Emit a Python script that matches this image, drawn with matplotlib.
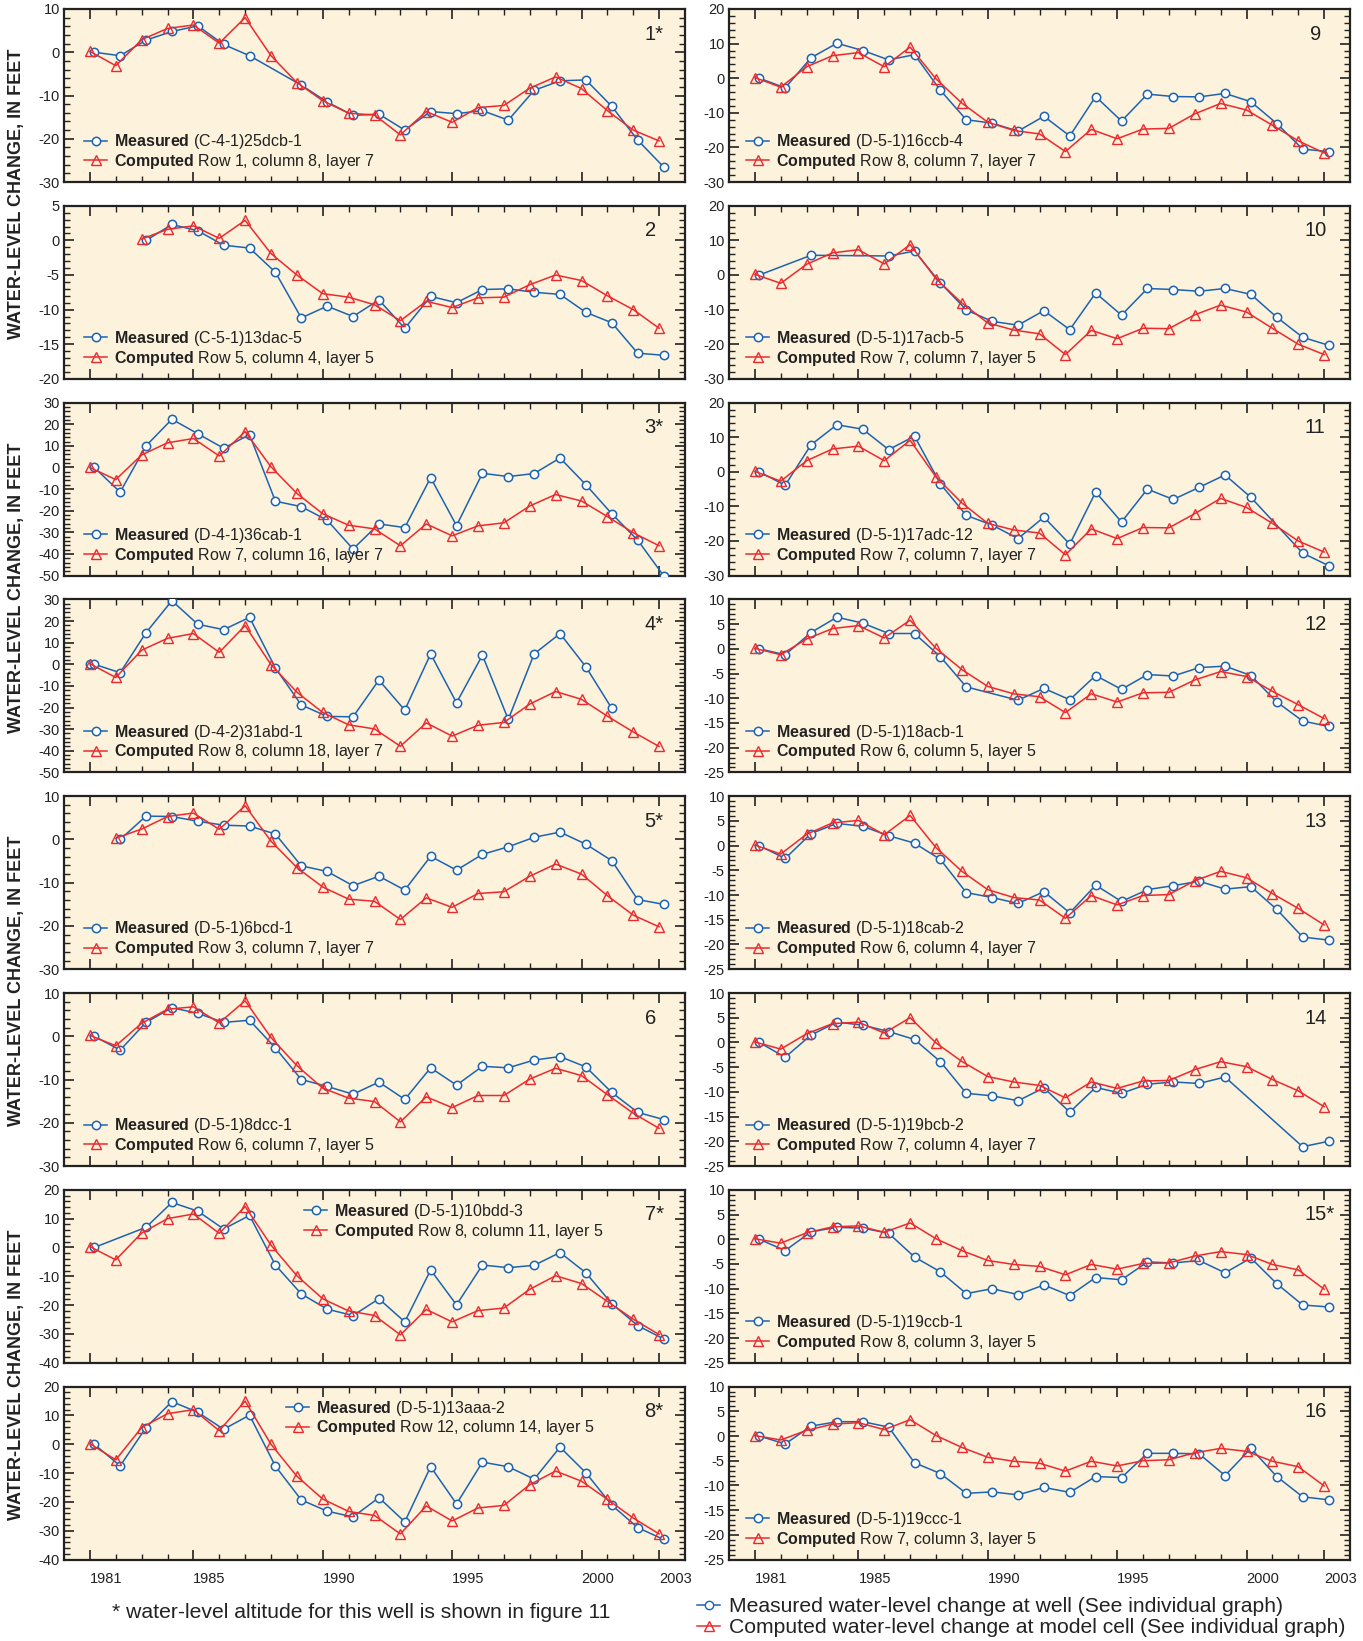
import matplotlib
matplotlib.use('Agg')
import matplotlib.pyplot as plt
from matplotlib.lines import Line2D
from matplotlib.ticker import MultipleLocator, AutoMinorLocator

plt.rcParams['font.family'] = ['Liberation Sans', 'DejaVu Sans']
plt.rcParams['mathtext.fontset'] = 'custom'
plt.rcParams['mathtext.rm'] = 'Liberation Sans'
plt.rcParams['mathtext.bf'] = 'Liberation Sans:bold'
plt.rcParams['axes.unicode_minus'] = False

BG = '#FDF2DB'
BLUE = '#1C63B0'
RED = '#EC2A2E'

label_years = [1981, 1985, 1990, 1995, 2000, 2003]
all_years = list(range(1981, 2004))
meas_shift = 0.17   # measured points sit a little right of the year tick

# ---- panel 1
c1 = [0.2, -3.1, 2.9, 5.5, 6.3, 2.1, 8.0, -0.8, -7.0, -11.2, -14.1, -14.5, -19.1, -13.7, -16.2, -12.8, -12.3, -8.3, -5.7, -8.4, -13.5, -18.0, -20.5]
m1_years = list(range(1981, 1988)) + list(range(1989, 2004))
m1 = [0, -0.8, 2.8, 4.8, 6.1, 1.8, -0.8, -7.6, -11.5, -14.6, -14.3, -18.0, -13.7, -14.2, -13.5, -15.7, -8.8, -6.6, -6.4, -12.5, -20.3, -26.5]
# ---- panel 2
c2_start = 1983
c2 = [0.2, 1.6, 2.1, 0.3, 2.9, -1.9, -5.0, -7.7, -8.2, -9.3, -11.6, -8.8, -9.7, -8.3, -8.2, -6.4, -5.0, -5.8, -8.0, -10.0, -12.7]
m2_years = list(range(1983, 2004))
m2 = [0, 2.3, 1.4, -0.7, -1.1, -4.6, -11.2, -9.5, -11.0, -8.6, -12.7, -8.1, -9.0, -7.1, -7.0, -7.5, -7.8, -10.4, -11.9, -16.3, -16.6]
# ---- panel 3
c3 = [0, -5.6, 5.8, 11.4, 13.4, 5.3, 16.6, 0.3, -12.0, -21.4, -26.7, -28.4, -36.2, -26.1, -31.6, -27.0, -25.6, -17.8, -12.5, -15.5, -22.7, -30.2, -36.2]
m3_years = all_years
m3 = [0, -11.4, 10.0, 22.3, 15.6, 8.9, 15.2, -15.6, -18.1, -24.4, -37.7, -26.1, -27.8, -4.7, -26.9, -2.7, -4.2, -2.8, 4.4, -8.0, -21.4, -33.6, -50.0]
# ---- panel 4
c4 = [0.3, -6.1, 6.5, 12.0, 14.2, 5.5, 17.9, -0.2, -12.9, -22.3, -28.0, -29.9, -37.9, -27.1, -33.2, -28.2, -26.9, -18.4, -12.6, -16.2, -24.0, -31.3, -38.0]
m4_years = [1980.83] + list(range(1981, 2002))
m4 = [0, 0, -3.9, 14.6, 29.4, 18.5, 16.0, 21.7, -1.7, -18.8, -24.1, -24.3, -7.3, -21.2, 4.8, -17.8, 4.2, -25.5, 4.8, 14.2, -1.2, -20.4]
# ---- panel 5
c5_start = 1982
c5 = [0.3, 2.4, 5.3, 6.1, 2.35, 7.8, -0.4, -6.5, -11.0, -13.8, -14.3, -18.5, -13.5, -15.7, -12.5, -12.1, -8.5, -5.7, -8.0, -13.0, -17.5, -20.2]
m5_years = list(range(1982, 2004))
m5 = [0, 5.4, 5.3, 4.2, 3.3, 3.1, 1.25, -6.1, -7.4, -10.7, -8.5, -11.7, -3.9, -7.1, -3.45, -1.7, 0.5, 1.7, -1.1, -4.9, -13.9, -15.0]
# ---- panel 6
c6 = [0.2, -2.2, 3.0, 6.25, 6.8, 3.1, 8.2, -0.3, -6.8, -12.0, -14.3, -15.1, -19.8, -14.0, -16.5, -13.7, -13.7, -9.9, -7.4, -9.1, -13.5, -17.8, -21.3]
m6_years = all_years
m6 = [0, -3.2, 3.2, 6.6, 5.3, 3.2, 3.7, -2.7, -10.0, -11.6, -13.4, -10.6, -14.6, -7.3, -11.3, -6.95, -7.3, -5.5, -4.7, -7.1, -13.0, -17.6, -19.25]
# ---- panel 7
c7 = [0.3, -4.3, 5.0, 10.0, 11.6, 4.9, 14.2, 0.8, -9.8, -17.8, -22.0, -23.6, -30.3, -21.5, -25.8, -21.9, -21.0, -14.5, -9.8, -12.5, -18.7, -24.9, -30.2]
m7_years = [1981] + list(range(1983, 2004))
m7 = [0, 7.0, 15.6, 12.6, 6.4, 11.1, -6.1, -16.1, -21.4, -23.6, -17.8, -25.8, -7.8, -19.9, -6.1, -7.0, -6.2, -1.75, -8.8, -19.5, -27.1, -31.7]
# ---- panel 8
c8 = [0.2, -5.4, 5.8, 10.6, 12.0, 4.7, 15.0, 0.0, -11.1, -19.0, -23.3, -24.7, -31.1, -21.4, -26.6, -22.1, -21.2, -14.0, -9.3, -12.8, -19.1, -25.6, -31.1]
m8_years = all_years
m8 = [0, -7.5, 5.8, 14.8, 11.1, 5.2, 10.1, -7.6, -19.3, -23.2, -25.2, -18.5, -26.9, -7.8, -20.7, -6.2, -7.8, -12.1, -1.0, -9.9, -21.1, -28.9, -33.0]
# ---- panel 9
c9 = [0.2, -2.6, 3.3, 6.5, 7.4, 3.3, 9.0, -0.2, -7.2, -12.7, -15.1, -16.1, -21.2, -14.8, -17.5, -14.7, -14.5, -10.3, -7.3, -9.2, -13.6, -18.1, -21.6]
m9_years = all_years
m9 = [0, -2.8, 5.9, 10.1, 8.0, 5.3, 6.8, -3.5, -12.0, -13.0, -15.3, -11.0, -16.7, -5.3, -12.4, -4.6, -5.3, -5.4, -4.4, -6.8, -13.1, -20.5, -21.2]
# ---- panel 10
c10 = [0.2, -2.4, 3.1, 6.4, 7.3, 3.2, 8.8, -1.1, -8.1, -13.85, -15.9, -17.0, -23.0, -16.0, -18.4, -15.4, -15.5, -11.5, -8.7, -10.7, -15.4, -20.0, -23.0]
m10_years = [1981, 1983] + list(range(1986, 2004))
m10 = [0, 5.7, 5.5, 6.9, -2.3, -10.1, -13.4, -14.5, -10.3, -15.8, -5.2, -11.6, -3.9, -4.2, -4.7, -3.9, -5.6, -12.2, -18.0, -20.3]
# ---- panel 11
c11 = [0.1, -2.7, 3.2, 6.6, 7.4, 3.2, 9.1, -1.5, -9.0, -14.9, -16.8, -17.7, -24.0, -16.5, -19.3, -16.1, -16.2, -12.1, -7.7, -10.3, -14.9, -20.0, -23.2]
m11_years = list(range(1981, 2001)) + [2002, 2003]
m11 = [0, -3.9, 7.8, 13.6, 12.3, 6.4, 10.3, -3.5, -12.6, -15.4, -19.3, -13.1, -20.9, -5.85, -14.5, -5.0, -8.0, -4.5, -0.9, -7.4, -23.5, -27.1]
# ---- panel 12
c12 = [0.1, -1.2, 2.0, 4.1, 4.7, 2.2, 5.8, 0.1, -4.2, -7.6, -9.1, -9.7, -12.9, -9.1, -10.75, -8.9, -8.8, -6.3, -4.6, -5.6, -8.6, -11.3, -14.1]
m12_years = list(range(1981, 1990)) + list(range(1991, 2004))
m12 = [0, -1.2, 3.3, 6.4, 5.2, 3.1, 3.1, -1.6, -7.7, -10.4, -8.0, -10.3, -5.4, -8.2, -5.2, -5.5, -3.8, -3.5, -5.4, -10.75, -14.6, -15.7]
# ---- panel 13
c13 = [0.1, -1.7, 2.3, 4.6, 5.1, 2.2, 6.1, -0.4, -5.2, -8.9, -10.5, -11.0, -14.7, -10.1, -12.0, -10.1, -9.9, -7.1, -5.2, -6.5, -9.7, -12.7, -16.05]
m13_years = all_years
m13 = [0, -2.6, 2.45, 4.5, 3.9, 2.0, 0.5, -2.8, -9.5, -10.5, -11.7, -9.3, -13.6, -8.0, -11.3, -8.9, -8.1, -7.2, -8.8, -8.3, -12.9, -18.5, -19.1]
# ---- panel 14
c14 = [0.1, -1.35, 1.75, 3.8, 4.1, 1.9, 5.0, -0.1, -3.85, -6.9, -8.0, -8.7, -11.2, -8.0, -9.3, -7.8, -7.7, -5.5, -3.9, -4.9, -7.5, -9.8, -13.0]
m14_years = list(range(1981, 2000)) + [2002, 2003]
m14 = [0, -3.0, 1.5, 4.1, 3.5, 2.2, 0.6, -3.9, -10.3, -10.8, -11.8, -9.2, -14.1, -9.1, -10.3, -8.45, -8.0, -8.3, -7.0, -21.1, -20.0]
# ---- panel 15
c15 = [0.1, -0.8, 1.3, 2.5, 2.7, 1.4, 3.3, 0.1, -2.3, -4.3, -5.1, -5.5, -7.2, -5.1, -6.05, -4.9, -4.8, -3.4, -2.5, -3.1, -5.1, -6.2, -10.1]
m15_years = all_years
m15 = [0, -2.3, 1.5, 2.4, 2.25, 1.2, -3.6, -6.6, -11.0, -10.0, -11.2, -9.25, -11.4, -7.75, -8.2, -4.6, -4.8, -4.3, -6.8, -3.8, -9.0, -13.3, -13.7]
# ---- panel 16
c16 = [0.1, -0.8, 1.15, 2.4, 2.7, 1.3, 3.3, 0.1, -2.3, -4.3, -5.1, -5.5, -7.1, -5.1, -6.05, -5.0, -4.8, -3.4, -2.5, -3.1, -5.1, -6.2, -10.1]
m16_years = all_years
m16 = [0, -1.6, 2.0, 2.9, 2.9, 1.8, -5.4, -7.6, -11.6, -11.3, -11.9, -10.4, -11.4, -8.2, -8.4, -3.5, -3.5, -3.6, -8.0, -2.5, -8.2, -12.3, -12.9]

wells = ['(C-4-1)25dcb-1', '(C-5-1)13dac-5', '(D-4-1)36cab-1', '(D-4-2)31abd-1',
         '(D-5-1)6bcd-1', '(D-5-1)8dcc-1', '(D-5-1)10bdd-3', '(D-5-1)13aaa-2',
         '(D-5-1)16ccb-4', '(D-5-1)17acb-5', '(D-5-1)17adc-12', '(D-5-1)18acb-1',
         '(D-5-1)18cab-2', '(D-5-1)19bcb-2', '(D-5-1)19ccb-1', '(D-5-1)19ccc-1']
cells = ['Row 1, column 8, layer 7', 'Row 5, column 4, layer 5', 'Row 7, column 16, layer 7',
         'Row 8, column 18, layer 7', 'Row 3, column 7, layer 7', 'Row 6, column 7, layer 5',
         'Row 8, column 11, layer 5', 'Row 12, column 14, layer 5', 'Row 8, column 7, layer 7',
         'Row 7, column 7, layer 5', 'Row 7, column 7, layer 7', 'Row 6, column 5, layer 5',
         'Row 6, column 4, layer 7', 'Row 7, column 4, layer 7', 'Row 8, column 3, layer 5',
         'Row 7, column 3, layer 5']
ylims = [(-30, 10), (-20, 5), (-50, 30), (-50, 30), (-30, 10), (-30, 10), (-40, 20), (-40, 20),
         (-30, 20), (-30, 20), (-30, 20), (-25, 10), (-25, 10), (-25, 10), (-25, 10), (-25, 10)]
ysteps = [10, 5, 10, 10, 10, 10, 10, 10, 10, 10, 10, 5, 5, 5, 5, 5]
starred = [1, 3, 4, 5, 7, 8, 15]

computed = [c1, c2, c3, c4, c5, c6, c7, c8, c9, c10, c11, c12, c13, c14, c15, c16]
comp_start = [1981, c2_start, 1981, 1981, c5_start] + [1981] * 11
measured = [m1, m2, m3, m4, m5, m6, m7, m8, m9, m10, m11, m12, m13, m14, m15, m16]
meas_years = [m1_years, m2_years, m3_years, m4_years, m5_years, m6_years, m7_years, m8_years,
              m9_years, m10_years, m11_years, m12_years, m13_years, m14_years, m15_years, m16_years]

W, H = 1363, 1641
fig = plt.figure(figsize=(W / 100, H / 100), dpi=100)

col_left = [64, 729]
ax_w, ax_h = 621, 173
row_top0, row_pitch = 9, 196.8


def draw_panel(i):
    col, row = divmod(i, 8)
    top = row_top0 + row * row_pitch
    ax = fig.add_axes([col_left[col] / W, 1 - (top + ax_h) / H, ax_w / W, ax_h / H])
    ax.set_facecolor(BG)

    comp = computed[i]
    cx = list(range(comp_start[i], comp_start[i] + len(comp)))
    mx = [y + meas_shift for y in meas_years[i]]

    ax.plot(mx, measured[i], color=BLUE, lw=1.1, marker='o', ms=6, mfc='white',
            mec=BLUE, mew=1.1, label=r'$\mathbf{Measured}$ ' + wells[i], zorder=3)
    ax.plot(cx, comp, color=RED, lw=1.1, marker='^', ms=6.5, mfc='none',
            mec=RED, mew=1.0, label=r'$\mathbf{Computed}$ ' + cells[i], zorder=4)

    ax.set_xlim(1980, 2004)
    ax.set_ylim(*ylims[i])
    ax.set_xticks(label_years)
    ax.set_xticks(all_years, minor=True)
    ax.yaxis.set_major_locator(MultipleLocator(ysteps[i]))
    ax.yaxis.set_minor_locator(AutoMinorLocator(5))
    ax.tick_params(which='both', direction='in', top=True, right=True, colors='#222222',
                   labelsize=10.5, pad=3)
    ax.tick_params(which='major', length=7, width=1.2)
    ax.tick_params(which='minor', length=4, width=1.0)
    for s in ax.spines.values():
        s.set_linewidth(1.6)
        s.set_color('#222222')

    if row == 7:
        ax.set_xticklabels([str(y) for y in label_years], ha='left')
        ax.tick_params(axis='x', which='major', pad=9)
    else:
        ax.set_xticklabels([])

    n = i + 1
    digits = len(str(n))
    xnum = 1 - (35 + digits * 5.4) / ax_w
    ax.text(xnum, 1 - 25 / ax_h, f'{n}*' if n in starred else str(n), transform=ax.transAxes,
            ha='left', va='center', fontsize=14.5, color='#222222')

    if n in (7, 8):
        anchor = ((240 if n == 7 else 222) / ax_w, 1 - 12 / ax_h)
        loc = 'upper left'
    else:
        anchor = ((20 if col == 0 else 17) / ax_w, 11 / ax_h)
        loc = 'lower left'
    ax.legend(loc=loc, bbox_to_anchor=anchor, frameon=False, fontsize=11.5,
              handlelength=1.45, handletextpad=0.45, labelspacing=0.05,
              borderpad=0, borderaxespad=0, labelcolor='#222222')
    return ax


for i in range(16):
    draw_panel(i)

# shared y labels, one per pair of rows on the left
for k in range(4):
    top = row_top0 + 2 * k * row_pitch
    bottom = row_top0 + (2 * k + 1) * row_pitch + ax_h
    fig.text(17 / W, 1 - (top + bottom) / 2 / H, 'WATER-LEVEL CHANGE, IN FEET', rotation=90,
             ha='center', va='center', fontsize=13, fontweight='bold', color='#222222')

fig.text(361 / W, 1 - 1612 / H, '* water-level altitude for this well is shown in figure 11',
         ha='center', va='center', fontsize=15.2, color='#222222')

handles = [Line2D([], [], color=BLUE, lw=1.1, marker='o', ms=6, mfc='white', mec=BLUE),
           Line2D([], [], color=RED, lw=1.1, marker='^', ms=6.5, mfc='none', mec=RED)]
fig.legend(handles, ['Measured water-level change at well (See individual graph)',
                     'Computed water-level change at model cell (See individual graph)'],
           loc='center left', bbox_to_anchor=(697 / W, 1 - 1617 / H), frameon=False,
           fontsize=15.2, handlelength=1.1, handletextpad=0.4, labelspacing=0.1,
           borderpad=0, borderaxespad=0, labelcolor='#222222')

fig.savefig('out.png', dpi=100, facecolor='white')
